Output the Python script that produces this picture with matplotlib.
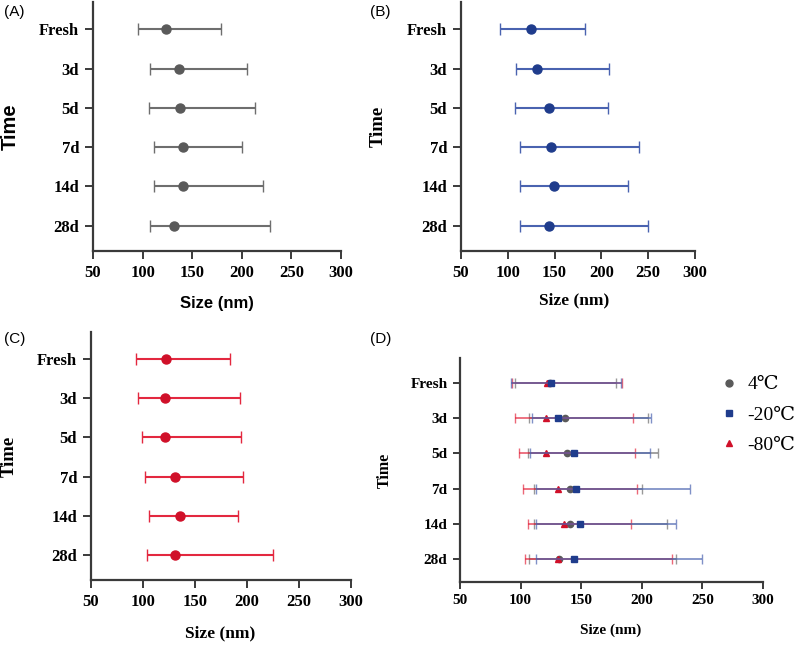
import numpy as np
import matplotlib
matplotlib.use("Agg")
import matplotlib.pyplot as plt
from matplotlib.lines import Line2D

# Storage time points
times = ['Fresh', '3d', '5d', '7d', '14d', '28d']

# Particle size (nm): mean, lower and upper end of error bar
mean_4 = [124, 137, 138, 141, 141, 132]
low_4 = [95, 107, 106, 111, 111, 107]
high_4 = [179, 205, 213, 200, 221, 228]

mean_20 = [125, 131, 144, 146, 149, 144]
low_20 = [92, 109, 108, 113, 113, 113]
high_20 = [183, 208, 207, 240, 228, 250]

mean_80 = [122, 121, 121, 131, 136, 131]
low_80 = [93, 95, 99, 102, 106, 104]
high_80 = [184, 193, 194, 196, 191, 225]

xticks = [50, 100, 150, 200, 250, 300]

gray = '#5a5a5a'
gray_bar = '#6e6e6e'
navy = '#1f3c8c'
navy_bar = '#4a63b0'
red = '#d01029'
red_bar = '#e3283f'

serif = ['Liberation Serif', 'DejaVu Serif']
sans = ['Liberation Sans', 'DejaVu Sans']

fig = plt.figure(figsize=(8, 6.46), dpi=100)


def px_axes(left, top, right, bottom):
    W, H = 800, 646
    return fig.add_axes([left / W, 1 - bottom / H, (right - left) / W, (bottom - top) / H])


def style_axes(ax, tick_size):
    y = np.arange(len(times))
    ax.set_ylim(5.65, -0.7)
    ax.set_xlim(50, 300)
    ax.set_yticks(y)
    ax.set_yticklabels(times, family=serif, fontweight='bold', fontsize=tick_size)
    ax.set_xticks(xticks)
    ax.set_xticklabels([str(t) for t in xticks], family=serif, fontweight='bold', fontsize=tick_size)
    for s in ['top', 'right']:
        ax.spines[s].set_visible(False)
    for s in ['left', 'bottom']:
        ax.spines[s].set_linewidth(1.6)
        ax.spines[s].set_color('#3a3a3a')
    ax.tick_params(width=1.4, length=6, color='#3a3a3a', pad=4)


def draw_bars(ax, mean, low, high, mcolor, bcolor, marker, ms, alpha=1.0, lw=1.5, cap=4, z=3):
    y = np.arange(len(times))
    m = np.array(mean)
    err = [m - np.array(low), np.array(high) - m]
    ax.errorbar(m, y, xerr=err, fmt='none', ecolor=bcolor, elinewidth=lw,
                capsize=cap, capthick=1, alpha=alpha, zorder=z)
    ax.plot(m, y, linestyle='none', marker=marker, color=mcolor, markersize=ms, zorder=z + 1)


# (A) 4 C
axA = px_axes(93, 2, 341, 251)
draw_bars(axA, mean_4, low_4, high_4, gray, gray_bar, 'o', 6.5)
style_axes(axA, 12)
axA.set_ylabel('Time', family=sans, fontweight='bold', fontsize=14.5)
axA.yaxis.set_label_coords(-0.294, 0.5)
axA.set_xlabel('Size (nm)', family=sans, fontweight='bold', fontsize=12)
axA.xaxis.set_label_coords(0.5, -0.18)

# (B) -20 C
axB = px_axes(461, 2, 695, 251)
draw_bars(axB, mean_20, low_20, high_20, navy, navy_bar, 'o', 6.5)
style_axes(axB, 12)
axB.set_ylabel('Time', family=serif, fontweight='bold', fontsize=13.5)
axB.yaxis.set_label_coords(-0.316, 0.5)
axB.set_xlabel('Size (nm)', family=serif, fontweight='bold', fontsize=12.5)
axB.xaxis.set_label_coords(0.483, -0.165)

# (C) -80 C
axC = px_axes(91, 332, 351, 580)
draw_bars(axC, mean_80, low_80, high_80, red, red_bar, 'o', 6.5)
style_axes(axC, 12)
axC.set_ylabel('Time', family=serif, fontweight='bold', fontsize=13.5)
axC.yaxis.set_label_coords(-0.283, 0.5)
axC.set_xlabel('Size (nm)', family=serif, fontweight='bold', fontsize=12.5)
axC.xaxis.set_label_coords(0.497, -0.183)

# (D) all three
axD = px_axes(460, 358, 763, 582)
draw_bars(axD, mean_4, low_4, high_4, gray, gray_bar, 'o', 4.5, alpha=0.7, lw=1.3, cap=3.5, z=3)
draw_bars(axD, mean_80, low_80, high_80, red, red_bar, '^', 4.5, alpha=0.7, lw=1.3, cap=3.5, z=4)
draw_bars(axD, mean_20, low_20, high_20, navy, navy_bar, 's', 4.5, alpha=0.7, lw=1.3, cap=3.5, z=5)
style_axes(axD, 11)
axD.tick_params(length=5)
axD.set_ylabel('Time', family=serif, fontweight='bold', fontsize=11.5)
axD.yaxis.set_label_coords(-0.221, 0.5)
axD.set_xlabel('Size (nm)', family=serif, fontweight='bold', fontsize=11)
axD.xaxis.set_label_coords(0.498, -0.187)

# legend for (D)
handles = [Line2D([], [], linestyle='none', marker='o', color=gray, markersize=5),
           Line2D([], [], linestyle='none', marker='s', color=navy, markersize=5),
           Line2D([], [], linestyle='none', marker='^', color=red, markersize=5)]
labels = ['4\u2103', '-20\u2103', '-80\u2103']
axD.legend(handles, labels, loc='upper left', bbox_to_anchor=(0.83, 0.955), frameon=False,
           prop={'family': serif, 'size': 14}, handletextpad=0.45, labelspacing=0.65,
           handlelength=1.0, borderaxespad=0.0)

# panel letters
for lab, x, y in [('(A)', 4, 12), ('(B)', 370, 12), ('(C)', 4, 339), ('(D)', 370, 339)]:
    fig.text(x / 800, 1 - y / 646, lab, family=sans, fontsize=11, va='center', ha='left')

fig.savefig('out.png', dpi=100)
